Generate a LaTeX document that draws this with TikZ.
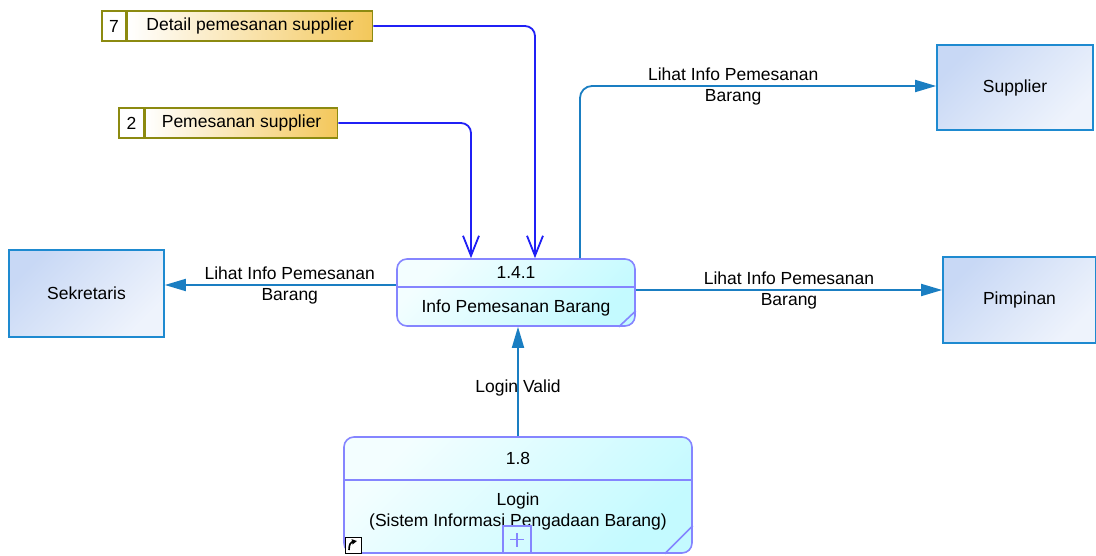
\documentclass[tikz,border=0pt]{standalone}
\usepackage{fontspec}
\setmainfont{Liberation Sans}
\usetikzlibrary{arrows.meta,positioning}
\definecolor{DFDFlow}{HTML}{1A7EC2}
\definecolor{DFDStoreLink}{HTML}{2020F5}
\definecolor{DFDProcEdge}{HTML}{8585FF}
\definecolor{DFDProcFill}{HTML}{C4FAFF}
\definecolor{DFDEntEdge}{HTML}{1E8AD0}
\definecolor{DFDEntFill}{HTML}{C8D8F5}
\definecolor{DFDStoreEdge}{HTML}{8C8A10}
\definecolor{DFDStoreFill}{HTML}{F3C75A}

\begin{document}
\begin{tikzpicture}[
  x=1pt, y=-1pt, font=\fontsize{17.5}{21}\selectfont,
  entity/.style={draw=DFDEntEdge, line width=1.6pt, top color=DFDEntFill, bottom color=DFDEntFill!30, shading angle=45, inner sep=0pt, align=center},
  process/.style={draw=DFDProcEdge, line width=1.6pt, rounded corners=10pt, top color=DFDProcFill!20, bottom color=DFDProcFill, shading angle=45, inner sep=0pt},
  procline/.style={draw=DFDProcEdge, line width=1.6pt},
  storeid/.style={draw=DFDStoreEdge, line width=1.6pt, fill=white, minimum height=30pt, inner sep=0pt},
  store/.style={draw=DFDStoreEdge, line width=1.6pt, left color=white, right color=DFDStoreFill, minimum height=30pt, inner sep=0pt},
  flow/.style={-{Triangle[length=21pt,width=12pt]}, line width=1.8pt, draw=DFDFlow, rounded corners=12pt},
  storelink/.style={-{Straight Barb[length=20pt,width=16pt]}, line width=1.8pt, draw=DFDStoreLink, rounded corners=10pt},
  flowlabel/.style={align=center, inner sep=1pt, text=black}
]
\useasboundingbox (0,0) rectangle (1096,556);

\node[storeid, minimum width=24pt] (st7id) at (114,26) {7};
\node[store, right=0pt of st7id, minimum width=245pt] (st7) {Detail pemesanan supplier};
\node[storeid, minimum width=25pt] (st2id) at (131.5,123) {2};
\node[store, right=0pt of st2id, minimum width=192pt] (st2) {Pemesanan supplier};

\node[process, minimum width=238pt, minimum height=67pt] (p141) at (516,292.5) {};
\draw[procline] ([yshift=-29pt]p141.north west) -- ([yshift=-29pt]p141.north east);
\draw[procline] ([xshift=-17pt]p141.south east) -- ([yshift=16pt]p141.south east);
\node (p141id) at ([yshift=-14.5pt]p141.north) {1.4.1};
\node (p141name) at ([yshift=19pt]p141.south) {Info Pemesanan Barang};

\node[process, minimum width=348pt, minimum height=116pt] (login) at (518,495) {};
\draw[procline] ([yshift=-44pt]login.north west) -- ([yshift=-44pt]login.north east);
\draw[procline] ([xshift=-28pt]login.south east) -- ([yshift=28pt]login.south east);
\node (loginid) at ([yshift=-22pt]login.north) {1.8};
\node[align=center] (loginname) at ([yshift=42.5pt]login.south) {Login\\(Sistem Informasi Pengadaan Barang)};
\node[draw=DFDProcEdge, line width=1.4pt, minimum width=28pt, minimum height=27pt, inner sep=0pt] (plusbox) at (517,539.5) {};
\draw[DFDProcEdge, line width=1.2pt] ([xshift=-7pt]plusbox.center) -- ([xshift=7pt]plusbox.center)
  ([yshift=-7pt]plusbox.center) -- ([yshift=7pt]plusbox.center);
\draw[line width=1pt, fill=white] (345,537) rectangle (361,553);
\draw[-{Triangle[length=5pt,width=5pt]}, line width=1.6pt] (349,550) .. controls (349,544) and (351,542) .. (357,541);

\node[entity, minimum width=155pt, minimum height=87pt] (sek) at (86.5,293.5) {Sekretaris};
\node[entity, minimum width=156pt, minimum height=85pt] (sup) at (1015,87.5) {Supplier};
\node[entity, minimum width=153pt, minimum height=86pt] (pim) at (1019.5,300) {Pimpinan};

\draw[storelink] (st7.east) -| ([xshift=19pt]p141.north);
\draw[storelink] (st2.east) -| ([xshift=-45pt]p141.north);
\draw[flow] ([xshift=64pt]p141.north) |- node[flowlabel, pos=0.715] {Lihat Info Pemesanan\\Barang} ([yshift=1.5pt]sup.west);
\draw[flow] ([yshift=7.5pt]p141.west) -- node[flowlabel, pos=0.46] {Lihat Info Pemesanan\\Barang} ([yshift=7.5pt]p141.west -| sek.east);
\draw[flow] ([yshift=2.5pt]p141.east) -- node[flowlabel] {Lihat Info Pemesanan\\Barang} ([yshift=2.5pt]p141.east -| pim.west);
\draw[flow] (login.north) -- node[flowlabel, pos=0.44] {Login Valid} (login.north |- p141.south);
\end{tikzpicture}
\end{document}
